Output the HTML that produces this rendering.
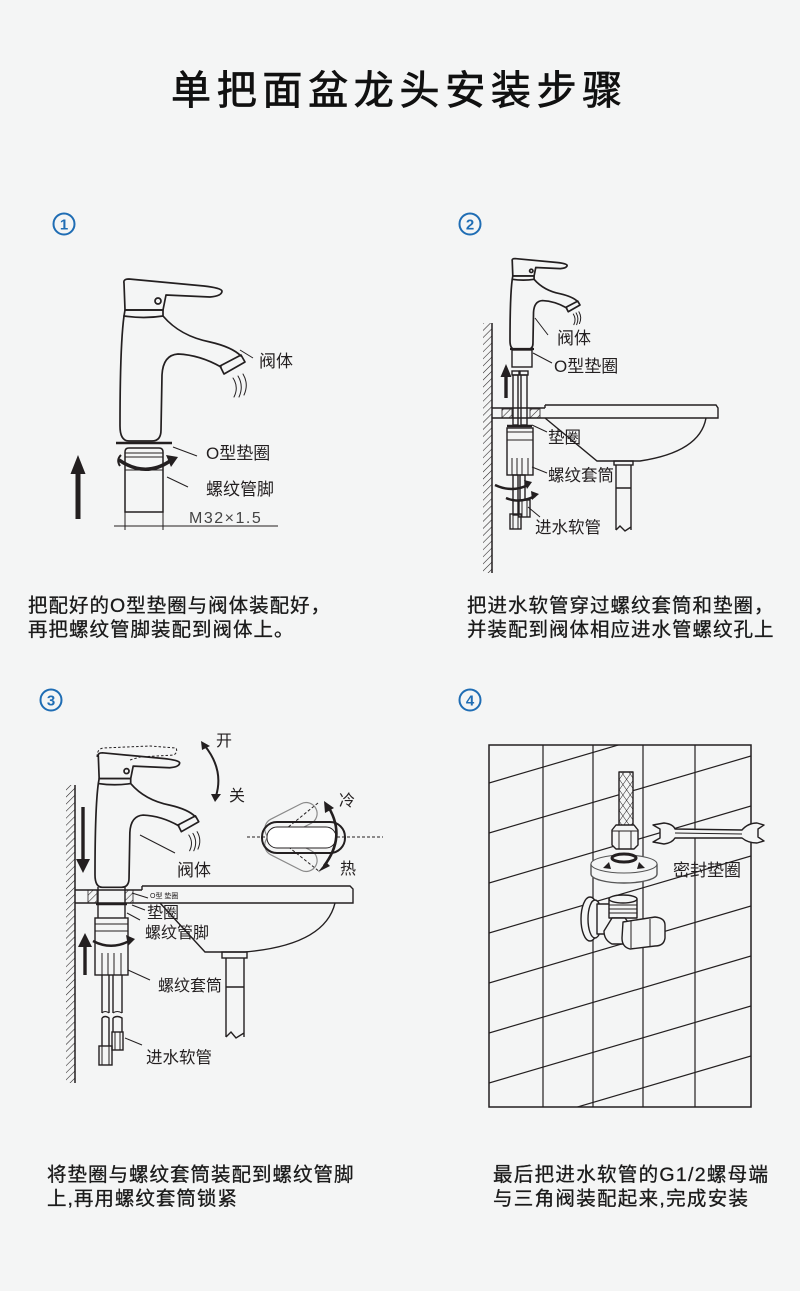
<!DOCTYPE html>
<html><head><meta charset="utf-8">
<style>
html,body{margin:0;padding:0;background:#f4f5f5;}
body{width:800px;height:1291px;overflow:hidden;position:relative;}
svg{position:absolute;left:0;top:0;}
text{font-family:"Liberation Sans","Noto Sans CJK SC",sans-serif;fill:#231f20;}
.cap{fill:#1a1a1a;stroke:#1a1a1a;stroke-width:0.3;}
</style></head><body>
<svg width="800" height="1291" viewBox="0 0 800 1291" xmlns="http://www.w3.org/2000/svg">
<defs>
 <pattern id="hatch" width="5" height="5" patternUnits="userSpaceOnUse" patternTransform="rotate(45)">
  <line x1="0" y1="0" x2="0" y2="5" stroke="#231f20" stroke-width="1.1"/>
 </pattern>
 <pattern id="braid" width="6" height="6" patternUnits="userSpaceOnUse" patternTransform="rotate(35)">
  <line x1="0" y1="0" x2="0" y2="6" stroke="#231f20" stroke-width="1"/>
 </pattern>
 <pattern id="braid2" width="6" height="6" patternUnits="userSpaceOnUse" patternTransform="rotate(-35)">
  <line x1="0" y1="0" x2="0" y2="6" stroke="#231f20" stroke-width="1"/>
 </pattern>
 <clipPath id="frame"><rect x="489" y="745" width="262" height="362"/></clipPath>
 <g id="fc" fill="none" stroke="#231f20" stroke-width="1.7" stroke-linejoin="round" stroke-linecap="round">
  <path vector-effect="non-scaling-stroke" d="M4,5 Q3,1 9,1 L84,8 Q101,10 102,13 Q102,18 90,19 L46,17 L43,32 L5,32 Z"/>
  <path vector-effect="non-scaling-stroke" d="M5,32 L43,32 L43,38 Q24,41 4,38 Z"/>
  <circle vector-effect="non-scaling-stroke" cx="38" cy="23" r="3"/>
  <path vector-effect="non-scaling-stroke" d="M4,38 C1,60 0,110 0,148 Q0,163 9,163 L32,163 Q41,163 41,152 L42,97 Q43,77 58,76 Q80,77 101,89"/>
  <path vector-effect="non-scaling-stroke" d="M43,38 C55,52 70,60 90,64 Q112,69 121,78"/>
  <path vector-effect="non-scaling-stroke" d="M100,88 L121,77 L125,84 L104,96 Z"/>
  <path vector-effect="non-scaling-stroke" stroke-width="1" d="M113,100 Q119,109 114,119 M118,98 Q124,108 119,119 M123,96 Q129,106 124,117"/>
 </g>
</defs>

<!-- Title -->
<text x="171" y="104" font-size="40" font-weight="400" letter-spacing="5.7" style="fill:#111;stroke:#111;stroke-width:0.8">单把面盆龙头安装步骤</text>

<!-- circled numbers -->
<g fill="none" stroke="#1f6db4" stroke-width="2">
 <circle cx="64" cy="224" r="10.5"/>
 <circle cx="470" cy="224" r="10.5"/>
 <circle cx="51" cy="700" r="10.5"/>
 <circle cx="470" cy="700" r="10.5"/>
</g>
<g font-size="15" font-weight="bold" text-anchor="middle">
 <text x="64" y="229.5" style="fill:#1f6db4">1</text>
 <text x="470" y="229.5" style="fill:#1f6db4">2</text>
 <text x="51" y="705.5" style="fill:#1f6db4">3</text>
 <text x="470" y="705.5" style="fill:#1f6db4">4</text>
</g>

<!-- ========== STEP 1 ========== -->
<use href="#fc" transform="translate(120,278)"/>
<g fill="none" stroke="#231f20" stroke-width="1.5">
 <line x1="116" y1="443" x2="172" y2="443" stroke-width="2.4"/>
 <path d="M125,452 Q125,448 129,448 L159,448 Q163,448 163,452 L163,512 L125,512 Z"/>
 <line x1="125" y1="453" x2="163" y2="453" stroke-width="1"/>
 <line x1="125" y1="457" x2="163" y2="457" stroke-width="1"/>
 <line x1="125" y1="470" x2="163" y2="470" stroke-width="1"/>
 <path d="M119,460 Q145,478 170,461" stroke-width="3.5"/>
 <line x1="125" y1="508" x2="125" y2="530" stroke-width="1"/>
 <line x1="163" y1="508" x2="163" y2="530" stroke-width="1"/>
 <line x1="114" y1="526" x2="278" y2="526" stroke-width="1"/>
 <line x1="173" y1="447" x2="197" y2="456" stroke-width="1"/>
 <line x1="167" y1="477" x2="188" y2="487" stroke-width="1"/>
 <line x1="240" y1="350" x2="253" y2="358" stroke-width="1"/>
</g>
<polygon points="166,455 178,457 171,467" fill="#231f20"/>
<path d="M121,455 Q116,460 120,466" fill="none" stroke="#231f20" stroke-width="2"/>
<polygon points="78,455 85.5,474 80.5,474 80.5,519 75.5,519 75.5,474 70.5,474" fill="#231f20"/>
<text x="259" y="367" font-size="17">阀体</text>
<text x="206" y="459" font-size="17">O型垫圈</text>
<text x="206" y="495" font-size="17">螺纹管脚</text>
<text x="189" y="523" font-size="16" letter-spacing="1.5" style="fill:#444">M32×1.5</text>

<text class="cap" x="28" y="612" font-size="19.5" letter-spacing="1">把配好的O型垫圈与阀体装配好，</text>
<text class="cap" x="28" y="636" font-size="19.5" letter-spacing="1">再把螺纹管脚装配到阀体上。</text>

<!-- ========== STEP 2 ========== -->
<rect x="483" y="323" width="9" height="250" fill="url(#hatch)"/>
<line x1="492" y1="323" x2="492" y2="573" stroke="#231f20" stroke-width="1.5"/>
<use href="#fc" transform="translate(510,258) scale(0.56)"/>
<g fill="none" stroke="#231f20" stroke-width="1.4">
 <line x1="510" y1="349" x2="534" y2="349" stroke-width="2.2"/>
 <rect x="512" y="350" width="20" height="17"/>
 <path d="M492,408 L545,408 M545,405 L716,405 L718,408 L718,418 L492,418 M545,405 L545,408"/>
 <path d="M545,418 L597,461 L640,461 Q700,452 706,418"/>
 <rect x="614" y="461" width="19" height="4"/>
 <path d="M616,465 L616,530 M631,465 L631,530 M616,488 L631,488 M616,530 L620,526 L625,531 L631,527"/>
 <rect x="513" y="375" width="5" height="50"/>
 <rect x="521" y="375" width="6" height="50"/>
 <rect x="512" y="371" width="7" height="4"/>
 <rect x="520" y="371" width="8" height="4"/>
 <line x1="507" y1="426" x2="532" y2="426" stroke-width="2.4"/>
 <rect x="507" y="428" width="26" height="47"/>
 <line x1="507" y1="432" x2="533" y2="432" stroke-width="1"/>
 <line x1="507" y1="440" x2="533" y2="440" stroke-width="1"/>
 <path d="M512,458 L512,475 M517,458 L517,475 M522,458 L522,475 M528,458 L528,475" stroke-width="1"/>
 <rect x="513" y="475" width="5" height="40"/>
 <rect x="520" y="475" width="5" height="25"/>
 <rect x="519" y="500" width="11" height="17"/>
 <path d="M522,500 L522,517 M527,500 L527,517" stroke-width="1"/>
 <rect x="510" y="514" width="11" height="15"/>
 <path d="M513,514 L513,529 M518,514 L518,529" stroke-width="1"/>
 <path d="M495,485 Q512,493 528,485" stroke-width="2.5"/>
 <path d="M506,498 Q520,504 535,496" stroke-width="2.5"/>
 <line x1="535" y1="318" x2="548" y2="335" stroke-width="1"/>
 <line x1="533" y1="353" x2="552" y2="363" stroke-width="1"/>
 <line x1="532" y1="425" x2="547" y2="432" stroke-width="1"/>
 <line x1="532" y1="467" x2="547" y2="473" stroke-width="1"/>
 <line x1="528" y1="507" x2="540" y2="517" stroke-width="1"/>
</g>
<rect x="502" y="409" width="10" height="9" fill="url(#hatch)" stroke="#231f20" stroke-width="0.8"/>
<rect x="530" y="409" width="10" height="9" fill="url(#hatch)" stroke="#231f20" stroke-width="0.8"/>
<polygon points="524,480 532,482 527,489" fill="#231f20"/>
<polygon points="531,491 539,494 532,500" fill="#231f20"/>
<polygon points="506,364 511.5,377 500.5,377" fill="#231f20"/>
<rect x="504.3" y="376" width="3.4" height="22" fill="#231f20"/>
<text x="557" y="344" font-size="17">阀体</text>
<text x="554" y="372" font-size="17">O型垫圈</text>
<text x="548" y="443" font-size="16.5">垫圈</text>
<text x="548" y="481" font-size="16.5">螺纹套筒</text>
<text x="535" y="533" font-size="16.5">进水软管</text>

<text class="cap" x="467" y="612" font-size="19.5" letter-spacing="1">把进水软管穿过螺纹套筒和垫圈，</text>
<text class="cap" x="467" y="636" font-size="19.5" letter-spacing="1">并装配到阀体相应进水管螺纹孔上</text>

<!-- ========== STEP 3 ========== -->
<rect x="66" y="785" width="9" height="298" fill="url(#hatch)"/>
<line x1="75" y1="785" x2="75" y2="1083" stroke="#231f20" stroke-width="1.5"/>
<use href="#fc" transform="translate(95,752) scale(0.83)"/>
<path d="M97,757 Q97,749 103,748 L150,746 L176,748 Q178,752 174,755 L140,757 L130,760" fill="none" stroke="#231f20" stroke-width="1" stroke-dasharray="2.5,2"/>
<g fill="none" stroke="#231f20" stroke-width="1.4">
 <path d="M205,746 Q224,770 216,796" stroke-width="2"/>
 <line x1="140" y1="835" x2="175" y2="853" stroke-width="1"/>
 <line x1="247" y1="837" x2="383" y2="837" stroke-width="1" stroke-dasharray="3,2"/>
 <path d="M318,803 L276,837 L320,872" stroke-width="1" stroke-dasharray="3,2"/>
 <rect x="0" y="-11" width="56" height="22" rx="11" transform="translate(266,834) rotate(-27)" stroke="#8a8a8a" stroke-width="1.2"/>
 <rect x="0" y="-11" width="56" height="22" rx="11" transform="translate(266,840) rotate(27)" stroke="#8a8a8a" stroke-width="1.2"/>
 <rect x="262" y="822" width="83" height="31" rx="15" stroke-width="2"/>
 <rect x="267" y="827" width="69" height="21" rx="10" fill="#ffffff" stroke-width="1"/>
 <path d="M329,808 Q346,837 324,866" stroke-width="2.6"/>
 <path d="M75,890 L142,890 M142,886 L350,886 L353,889 L353,903 L75,903 M142,886 L142,890"/>
 <path d="M160,903 L205,952 L245,952 Q325,945 335,903"/>
 <rect x="222" y="952" width="25" height="6"/>
 <path d="M226,958 L226,1037 M244,958 L244,1037 M226,987 L244,987 M226,1037 L231,1032 L236,1038 L244,1033"/>
 <path d="M98,887 L98,918 M125,887 L125,918"/>
 <line x1="96" y1="904" x2="127" y2="904" stroke-width="2.4"/>
 <rect x="95" y="918" width="33" height="57"/>
 <line x1="95" y1="924" x2="128" y2="924" stroke-width="1"/>
 <line x1="95" y1="931" x2="128" y2="931" stroke-width="1"/>
 <path d="M93,941 Q112,951 131,940" stroke-width="2.5"/>
 <path d="M102,953 L102,975 M108,953 L108,975 M114,953 L114,975 M121,953 L121,975" stroke-width="1"/>
 <path d="M102,975 L102,1013 M109,975 L109,1013 M113,975 L113,1013 M122,975 L122,1013"/>
 <path d="M102,1013 Q105,1010 109,1013 M113,1013 Q117,1010 122,1013" stroke-width="1"/>
 <path d="M102,1018 Q105,1015 109,1018 L109,1046 M102,1018 L102,1046 M113,1018 Q117,1015 122,1018 L122,1032 M113,1018 L113,1032"/>
 <rect x="112" y="1032" width="11" height="18"/>
 <path d="M115,1032 L115,1050 M120,1032 L120,1050" stroke-width="1"/>
 <rect x="99" y="1046" width="13" height="19"/>
 <path d="M102,1046 L102,1065 M109,1046 L109,1065" stroke-width="1"/>
 <line x1="132" y1="893" x2="148" y2="898" stroke-width="1"/>
 <line x1="132" y1="905" x2="145" y2="910" stroke-width="1"/>
 <line x1="127" y1="913" x2="140" y2="920" stroke-width="1"/>
 <line x1="128" y1="970" x2="150" y2="980" stroke-width="1"/>
 <line x1="125" y1="1038" x2="142" y2="1045" stroke-width="1"/>
</g>
<rect x="88" y="890" width="9" height="13" fill="url(#hatch)" stroke="#231f20" stroke-width="0.8"/>
<rect x="125" y="890" width="8" height="13" fill="url(#hatch)" stroke="#231f20" stroke-width="0.8"/>
<polygon points="201,741 210,746 202,750" fill="#231f20"/>
<polygon points="211,794 221,794 215,802" fill="#231f20"/>
<polygon points="83,873 90,859 76,859" fill="#231f20"/>
<rect x="81.3" y="807" width="3.4" height="53" fill="#231f20"/>
<polygon points="85,933 92,947 78,947" fill="#231f20"/>
<rect x="83.3" y="946" width="3.4" height="29" fill="#231f20"/>
<polygon points="126,935 135,939 128,946" fill="#231f20"/>
<polygon points="324,801 334,808 325,813" fill="#231f20"/>
<polygon points="318,872 330,866 326,862" fill="#231f20"/>
<text x="216" y="746" font-size="16">开</text>
<text x="229" y="801" font-size="16">关</text>
<text x="339" y="806" font-size="16">冷</text>
<text x="340" y="874" font-size="16">热</text>
<text x="177" y="876" font-size="17">阀体</text>
<text x="150" y="898" font-size="7">O型 垫圈</text>
<text x="147" y="918" font-size="16">垫圈</text>
<text x="145" y="938" font-size="16">螺纹管脚</text>
<text x="158" y="991" font-size="16">螺纹套筒</text>
<text x="146" y="1063" font-size="16.5">进水软管</text>

<text class="cap" x="47" y="1181" font-size="19.5" letter-spacing="1">将垫圈与螺纹套筒装配到螺纹管脚</text>
<text class="cap" x="47" y="1205" font-size="19.5" letter-spacing="1">上,再用螺纹套筒锁紧</text>

<!-- ========== STEP 4 ========== -->
<g clip-path="url(#frame)" stroke="#231f20" stroke-width="1.2" fill="none">
 <line x1="543" y1="745" x2="543" y2="1107"/>
 <line x1="593" y1="745" x2="593" y2="1107"/>
 <line x1="643" y1="745" x2="643" y2="1107"/>
 <line x1="695" y1="745" x2="695" y2="1107"/>
 <line x1="489" y1="783" x2="751" y2="706"/>
 <line x1="489" y1="833" x2="751" y2="756"/>
 <line x1="489" y1="883" x2="751" y2="806"/>
 <line x1="489" y1="933" x2="751" y2="856"/>
 <line x1="489" y1="983" x2="751" y2="906"/>
 <line x1="489" y1="1033" x2="751" y2="956"/>
 <line x1="489" y1="1083" x2="751" y2="1006"/>
 <line x1="489" y1="1133" x2="751" y2="1056"/>
</g>
<rect x="489" y="745" width="262" height="362" fill="none" stroke="#231f20" stroke-width="1.5"/>
<g stroke="#231f20" stroke-width="1.4" fill="#f4f5f5" stroke-linejoin="round">
 <rect x="619" y="772" width="14" height="55"/>
 <rect x="619" y="772" width="14" height="55" fill="url(#braid)" stroke="none"/>
 <rect x="619" y="772" width="14" height="55" fill="url(#braid2)" stroke="none"/>
 <path d="M612,830 L616,825 L634,825 L638,830 L638,845 L634,849 L616,849 L612,845 Z"/>
 <path d="M612,831 L638,831 M619,831 L619,849 M631,831 L631,849" fill="none" stroke-width="1"/>
 <path d="M591,864 L591,874 A33,9 0 0 0 657,874 L657,864" stroke="#555"/>
 <ellipse cx="624" cy="864" rx="33" ry="9" stroke="#555" stroke-width="1.1"/>
 <ellipse cx="624" cy="858" rx="12" ry="4" stroke-width="3"/>
 <path d="M653,825 L664,823 Q673,824 675,829 L742,830 Q748,823 757,823 L764,825 L758,829 L758,837 L764,841 L757,843 Q748,843 742,838 L675,838 Q672,843 664,844 L653,842 L660,838 L660,829 Z"/>
 <path d="M675,833 L742,834" fill="none" stroke-width="1"/>
 <ellipse cx="590" cy="919" rx="9" ry="22"/>
 <ellipse cx="595" cy="919" rx="7" ry="19"/>
 <path d="M597,904 L612,904 L612,934 L597,934 Z"/>
 <rect x="609" y="899" width="28" height="19"/>
 <ellipse cx="623" cy="899" rx="14" ry="4"/>
 <path d="M609,905 L637,905 M609,909 L637,909 M609,913 L637,913" fill="none" stroke-width="1"/>
 <path d="M612,918 L625,918 L628,922 L628,944 L612,944 Q604,940 604,931 Z"/>
 <path d="M623,922 L655,917 Q665,918 665,925 L665,938 Q664,946 655,946 L630,949 Q622,947 622,938 Z"/>
 <path d="M631,921 L631,948 M650,919 L650,946" fill="none" stroke-width="1"/>
</g>
<path d="M603,868 L609,862 L611,869 Z M645,868 L639,862 L637,869 Z" fill="#231f20"/>
<text x="673" y="876" font-size="17">密封垫圈</text>

<text class="cap" x="493" y="1181" font-size="19.5" letter-spacing="1.3">最后把进水软管的G1/2螺母端</text>
<text class="cap" x="493" y="1205" font-size="19.5" letter-spacing="1.3">与三角阀装配起来,完成安装</text>
</svg>
</body></html>
